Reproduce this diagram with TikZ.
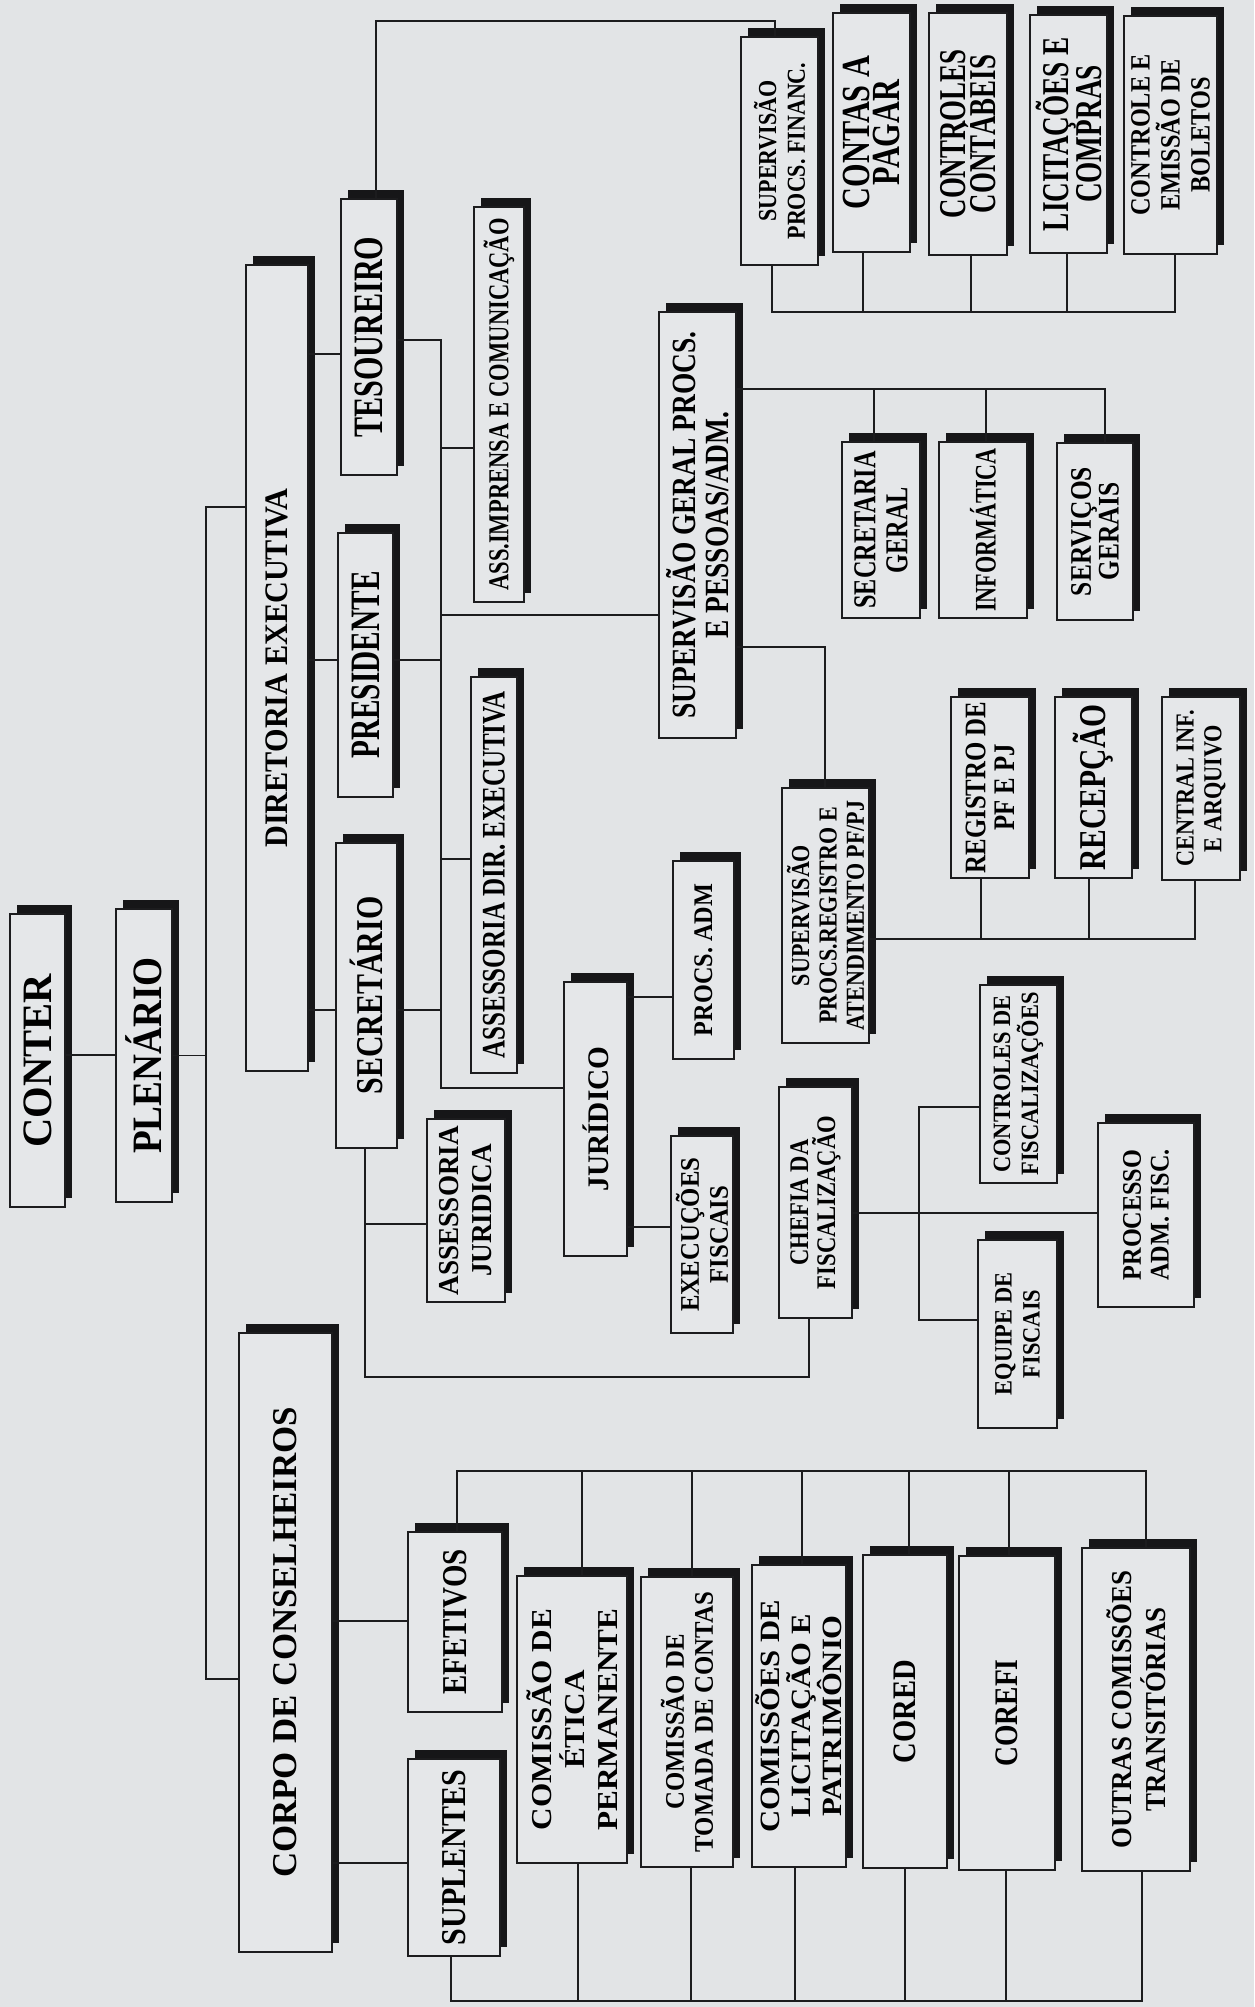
\documentclass[tikz,border=0pt]{standalone}
\usepackage{fontspec}
\setmainfont{Liberation Serif}
\usetikzlibrary{fit}
\definecolor{bgc}{RGB}{226,228,230}
\definecolor{boxc}{RGB}{229,231,233}
\definecolor{ink}{RGB}{28,28,30}
\definecolor{shc}{RGB}{22,22,24}
\tikzset{
  bx/.style={draw=ink, line width=1.4bp, fill=boxc, inner sep=0pt, outer sep=0pt},
  tx/.style={rotate=90, align=center, inner sep=0pt, text=black},
  ln/.style={draw=ink, line width=1.3bp}
}
% name, x1, y1, x2, y2, size, stretch, leading, text
\newcommand{\ob}[9]{%
  \fill[shc] ({#2+7},{#3-9}) rectangle ({#4+7},{#5-9});
  \path (#2,#3) coordinate (#1-a) (#4,#5) coordinate (#1-b);
  \node[bx, fit=(#1-a)(#1-b)] (#1) {};
  \node[tx, xscale=#7, font={\fontsize{#6}{#8}\selectfont\bfseries\lineskiplimit=-\maxdimen}] (#1-t) at (#1.center) {#9};
}
\begin{document}
\begin{tikzpicture}[x=1bp, y=-1bp]
\fill[bgc] (0,0) rectangle (1254,2007);
\useasboundingbox (0,0) rectangle (1254,2007);

\ob{conter}{10}{914}{65}{1207}{42}{0.97}{44}{CONTER}
\ob{plen}{116}{909}{172}{1202}{42}{0.89}{44}{PLENÁRIO}
\ob{dir}{246}{265}{308}{1071}{33}{0.92}{36}{DIRETORIA EXECUTIVA}
\ob{corpo}{239}{1333}{332}{1952}{35}{1.0}{38}{CORPO DE CONSELHEIROS}
\ob{tes}{341}{199}{397}{475}{42}{0.72}{44}{TESOUREIRO}
\ob{pres}{338}{533}{393}{797}{42}{0.70}{44}{PRESIDENTE}
\ob{sec}{336}{843}{397}{1148}{38}{0.79}{40}{SECRETÁRIO}
\ob{imp}{474}{207}{524}{602}{29}{0.78}{30}{ASS.IMPRENSA E COMUNICAÇÃO}
\ob{adir}{471}{677}{517}{1073}{33}{0.76}{34}{ASSESSORIA DIR. EXECUTIVA}
\ob{ajur}{427}{1119}{505}{1302}{29}{0.94}{33}{ASSESSORIA\\JURIDICA}
\ob{jur}{564}{982}{627}{1256}{30}{0.98}{32}{JURÍDICO}
\ob{sgp}{659}{312}{736}{738}{34}{0.81}{33}{SUPERVISÃO GERAL PROCS.\\E PESSOAS/ADM.}
\ob{padm}{673}{861}{734}{1059}{27}{0.9}{30}{PROCS. ADM}
\ob{exf}{671}{1136}{733}{1333}{27}{0.92}{29}{EXECUÇÕES\\FISCAIS}
\ob{srp}{782}{788}{869}{1043}{26}{0.85}{27.5}{SUPERVISÃO\\PROCS.REGISTRO E\\ATENDIMENTO PF/PJ}
\ob{chf}{779}{1087}{852}{1318}{27}{0.84}{27}{CHEFIA DA\\FISCALIZAÇÃO}
\ob{spf}{741}{37}{818}{265}{26}{0.85}{29}{SUPERVISÃO\\PROCS. FINANC.}
\ob{cap}{833}{13}{910}{252}{40}{0.76}{30}{CONTAS A\\PAGAR}
\ob{cco}{929}{13}{1007}{255}{38}{0.71}{30}{CONTROLES\\CONTÁBEIS}
\ob{lic}{1030}{15}{1107}{253}{38}{0.72}{33}{LICITAÇÕES E\\COMPRAS}
\ob{ceb}{1124}{16}{1217}{254}{28}{0.87}{30}{CONTROLE E\\EMISSÃO DE\\BOLETOS}
\ob{secg}{842}{442}{920}{618}{32}{0.76}{32}{SECRETARIA\\GERAL}
\ob{inf}{939}{442}{1027}{618}{30}{0.74}{30}{INFORMÁTICA}
\ob{serv}{1057}{443}{1133}{620}{30}{0.85}{28}{SERVIÇOS\\GERAIS}
\ob{reg}{951}{697}{1029}{878}{30}{0.83}{29}{REGISTRO DE\\PF E PJ}
\ob{rec}{1055}{697}{1132}{878}{38}{0.78}{40}{RECEPÇÃO}
\ob{cia}{1162}{697}{1240}{880}{26}{0.86}{28}{CENTRAL INF.\\E ARQUIVO}
\ob{cfi}{980}{985}{1057}{1183}{25}{0.9}{28}{CONTROLES DE\\FISCALIZAÇÕES}
\ob{eqf}{978}{1240}{1057}{1428}{25}{0.9}{28}{EQUIPE DE\\FISCAIS}
\ob{paf}{1098}{1123}{1194}{1307}{27}{0.9}{28}{PROCESSO\\ADM. FISC.}
\ob{efe}{408}{1532}{502}{1712}{35}{0.83}{38}{EFETIVOS}
\ob{sup}{408}{1759}{500}{1956}{35}{0.86}{38}{SUPLENTES}
\ob{cet}{517}{1576}{627}{1863}{29}{1.08}{33}{COMISSÃO DE\\ÉTICA\\PERMANENTE}
\ob{ctc}{641}{1577}{733}{1867}{27}{0.92}{29}{COMISSÃO DE\\TOMADA DE CONTAS}
\ob{clp}{752}{1565}{846}{1867}{28}{1.1}{31}{COMISSÕES DE\\LICITAÇÃO E\\PATRIMÔNIO}
\ob{cored}{863}{1555}{947}{1868}{33}{0.87}{36}{CORED}
\ob{corefi}{959}{1556}{1055}{1870}{33}{0.84}{36}{COREFI}
\ob{outras}{1082}{1548}{1190}{1871}{29}{0.93}{34}{OUTRAS COMISSÕES\\TRANSITÓRIAS}

% CONTER - PLENARIO
\draw[ln] (conter.east |- 0,1055) -- (plen.west |- 0,1055);
% trunk from PLENARIO
\coordinate (tk1) at (206,507);
\coordinate (tk2) at (206,1679);
\draw[ln] (plen.east) -- (tk1 |- plen.east);
\draw[ln] (dir.west |- tk1) -- (tk1) -- (tk2) -- (corpo.west |- tk2);
% DIRETORIA to members
\draw[ln] (dir.east |- 0,354) -- (tes.west |- 0,354);
\draw[ln] (dir.east |- 0,660) -- (pres.west |- 0,660);
\draw[ln] (dir.east |- 0,1010) -- (sec.west |- 0,1010);
% bus of advisory
\coordinate (b1) at (441,340);
\coordinate (b2) at (441,1088);
\draw[ln] (tes.east |- b1) -- (b1) -- (b2) -- (jur.west |- b2);
\draw[ln] (b1 |- 0,448) -- (imp.west |- 0,448);
\draw[ln] (b1 |- 0,615) -- (sgp.west |- 0,615);
\draw[ln] (pres.east |- 0,660) -- (b1 |- 0,660);
\draw[ln] (b1 |- 0,859) -- (adir.west |- 0,859);
\draw[ln] (sec.east |- 0,1010) -- (b1 |- 0,1010);
% TESOUREIRO to SUPERVISAO FINANC
\coordinate (t1) at (376,21);
\coordinate (t2) at (775,21);
\draw[ln] (tes.north -| t1) -- (t1) -- (t2) -- (spf.north -| t2);
% SUPERVISAO FINANC bus
\coordinate (f1) at (772,312);
\coordinate (f2) at (1175,312);
\draw[ln] (spf.south -| f1) -- (f1) -- (f2) -- (ceb.south -| f2);
\draw[ln] (f1 -| 863,0) -- (cap.south -| 863,0);
\draw[ln] (f1 -| 971,0) -- (cco.south -| 971,0);
\draw[ln] (f1 -| 1067,0) -- (lic.south -| 1067,0);
% SUPERVISAO GERAL bus
\coordinate (g1) at (1105,389);
\draw[ln] (sgp.east |- g1) -- (g1) -- (serv.north -| g1);
\draw[ln] (g1 -| 874,0) -- (secg.north -| 874,0);
\draw[ln] (g1 -| 986,0) -- (inf.north -| 986,0);
\coordinate (h1) at (825,647);
\draw[ln] (sgp.east |- h1) -- (h1) -- (srp.north -| h1);
% SUPERVISAO REGISTRO bus
\coordinate (i1) at (1195,939);
\draw[ln] (srp.east |- i1) -- (i1) -- (cia.south -| i1);
\draw[ln] (i1 -| 981,0) -- (reg.south -| 981,0);
\draw[ln] (i1 -| 1089,0) -- (rec.south -| 1089,0);
% JURIDICO
\draw[ln] (jur.east |- 0,997) -- (padm.west |- 0,997);
\draw[ln] (jur.east |- 0,1227) -- (exf.west |- 0,1227);
% SECRETARIO bottom
\coordinate (k1) at (365,1377);
\coordinate (k2) at (809,1377);
\draw[ln] (sec.south -| k1) -- (k1) -- (k2) -- (chf.south -| k2);
\draw[ln] (k1 |- 0,1224) -- (ajur.west |- 0,1224);
% CHEFIA
\coordinate (l1) at (919,1107);
\coordinate (l2) at (919,1320);
\draw[ln] (chf.east |- 0,1213) -- (paf.west |- 0,1213);
\draw[ln] (cfi.west |- l1) -- (l1) -- (l2) -- (eqf.west |- l2);
% CORPO
\draw[ln] (corpo.east |- 0,1621) -- (efe.west |- 0,1621);
\draw[ln] (corpo.east |- 0,1863) -- (sup.west |- 0,1863);
% top bus of commissions
\coordinate (n1) at (457,1471);
\coordinate (n2) at (1146,1471);
\draw[ln] (efe.north -| n1) -- (n1) -- (n2) -- (outras.north -| n2);
\draw[ln] (n1 -| 582,0) -- (cet.north -| 582,0);
\draw[ln] (n1 -| 692,0) -- (ctc.north -| 692,0);
\draw[ln] (n1 -| 802,0) -- (clp.north -| 802,0);
\draw[ln] (n1 -| 909,0) -- (cored.north -| 909,0);
\draw[ln] (n1 -| 1009,0) -- (corefi.north -| 1009,0);
% bottom bus of commissions
\coordinate (o1) at (451,2001);
\coordinate (o2) at (1142,2001);
\draw[ln] (sup.south -| o1) -- (o1) -- (o2) -- (outras.south -| o2);
\draw[ln] (o1 -| 578,0) -- (cet.south -| 578,0);
\draw[ln] (o1 -| 691,0) -- (ctc.south -| 691,0);
\draw[ln] (o1 -| 795,0) -- (clp.south -| 795,0);
\draw[ln] (o1 -| 905,0) -- (cored.south -| 905,0);
\draw[ln] (o1 -| 1006,0) -- (corefi.south -| 1006,0);
\end{tikzpicture}
\end{document}
